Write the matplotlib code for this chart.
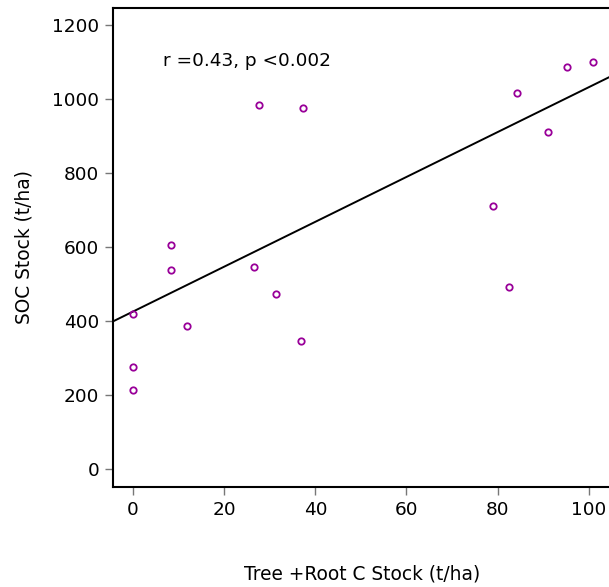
import numpy as np
import matplotlib
matplotlib.use("Agg")
import matplotlib.pyplot as plt

# Data
tree_root_c = [0.0, 0.0, 0.0, 8.3, 8.4, 11.9, 26.5, 27.7, 31.4, 37.3, 36.8,
               79.0, 82.6, 84.2, 91.1, 95.3, 100.9]
soc_stock = [420, 276, 214, 605, 537, 387, 545, 984, 474, 975, 346,
             711, 491, 1017, 912, 1086, 1099]
fit_intercept = 426
fit_slope = 6.06
x_ticks = [0, 20, 40, 60, 80, 100]
y_ticks = [0, 200, 400, 600, 800, 1000, 1200]
annotation = "r =0.43, p <0.002"

plt.rcParams['font.family'] = ['DejaVu Sans']
fig = plt.figure(figsize=(6.09, 5.87), dpi=100)
ax = fig.add_axes([113/609, 100/587, (612-113)/609, 479/587])

xlim = (-4.4, 105.1)
ax.set_xlim(*xlim)
ax.set_ylim(-48, 1246)

xs = np.array(xlim)
ax.plot(xs, fit_intercept + fit_slope * xs, color='black', lw=1.4, zorder=2)
ax.plot(tree_root_c, soc_stock, linestyle='none', marker='o', markersize=4.6,
        markerfacecolor='none', markeredgecolor='#990099', markeredgewidth=1.3,
        zorder=3)

ax.set_xticks(x_ticks)
ax.set_yticks(y_ticks)
ax.tick_params(axis='both', direction='out', length=6, width=1, color='#777777',
               labelsize=13.3, labelcolor='black', pad=4)
for side in ['left', 'bottom', 'top']:
    ax.spines[side].set_linewidth(1.5)
ax.spines['right'].set_visible(False)

ax.set_xlabel('Tree +Root C Stock (t/ha)', fontsize=13.4, labelpad=33)
ax.set_ylabel('SOC Stock (t/ha)', fontsize=13.4, labelpad=13)
ax.text(6.6, 1103, annotation, fontsize=13.3, ha='left', va='center')

fig.savefig('out.png', dpi=100)
